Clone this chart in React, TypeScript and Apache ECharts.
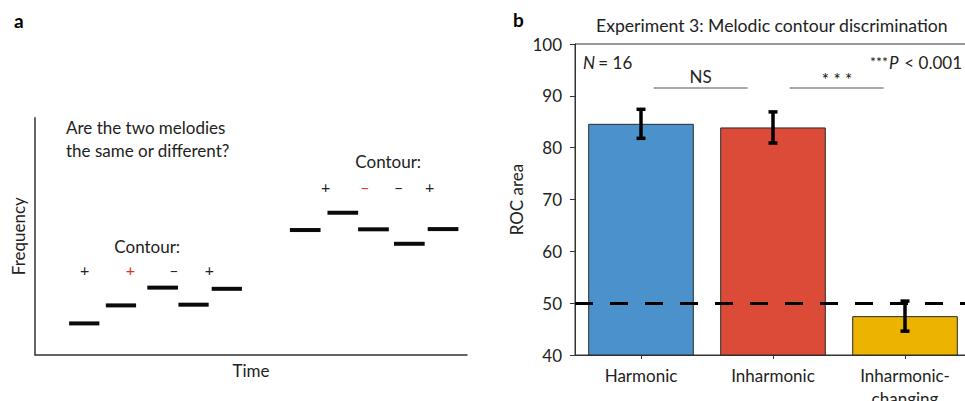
import React, { useEffect, useRef } from "react";
import * as echarts from "echarts";

// Panel b: ROC area per condition
const categories = ["Harmonic", "Inharmonic", "Inharmonic-\nchanging"];
const rocMeans = [84.6, 83.9, 47.5];
const rocErrors = [2.8, 3.0, 2.9];
const barColors = ["#4b92cc", "#dc4a38", "#ecb300"];
const chanceLevel = 50;
const rocMin = 40;
const rocMax = 100;
const rocStep = 10;

// Panel a: two example melodies as [start, end, pitch] in schematic units
const melodyFirst = [
  [7.9, 14.9, 13.2],
  [16.4, 23.4, 20.8],
  [26.0, 33.1, 28.3],
  [33.2, 40.2, 21.1],
  [40.9, 47.9, 27.8],
];
const melodySecond = [
  [59.0, 66.1, 52.6],
  [67.7, 74.8, 59.9],
  [74.8, 81.9, 52.9],
  [83.1, 90.2, 46.8],
  [90.9, 98.0, 53.0],
];
const contourFirst = ["+", "+", "–", "+"];
const contourSecond = ["+", "–", "–", "+"];
const changedStepFirst = 1;
const changedStepSecond = 1;

const FONT = "Lato, 'Open Sans', sans-serif";
const INK = "#222";
const RED = "#e8302a";

export default function App() {
  const ref = useRef<HTMLDivElement>(null);

  useEffect(() => {
    if (!ref.current) return;
    const chart = echarts.init(ref.current, undefined, { renderer: "svg" });

    const notes = [...melodyFirst, ...melodySecond];

    const txt = (
      text: string,
      x: number,
      y: number,
      size: number,
      align = "left",
      extra: any = {}
    ) => ({
      type: "text",
      x,
      y,
      silent: true,
      style: {
        text,
        fontSize: size,
        fontFamily: FONT,
        fill: INK,
        align,
        verticalAlign: "middle",
        ...extra,
      },
    });

    const signX1 = [84.7, 130.3, 174, 209.3];
    const signX2 = [325.7, 365, 398.7, 429.7];

    const graphic: any[] = [
      txt("a", 14, 20, 19, "left", { fontWeight: "bold", fill: "#000" }),
      txt("b", 513, 19, 19, "left", { fontWeight: "bold", fill: "#000" }),
      txt("Experiment 3: Melodic contour discrimination", 596, 25, 17.6, "left"),
      txt("Are the two melodies\nthe same or different?", 66, 138.5, 17, "left", {
        lineHeight: 23,
      }),
      txt("Contour:", 114.3, 246.7, 17),
      txt("Contour:", 355.3, 161.7, 17),
      ...contourFirst.map((s, i) =>
        txt(s, signX1[i], 269.3, 16, "center", {
          fill: i === changedStepFirst ? RED : INK,
        })
      ),
      ...contourSecond.map((s, i) =>
        txt(s, signX2[i], 186.7, 16, "center", {
          fill: i === changedStepSecond ? RED : INK,
        })
      ),
      // significance brackets
      {
        type: "line",
        silent: true,
        shape: { x1: 653.7, y1: 88, x2: 747.7, y2: 88 },
        style: { stroke: "#555", lineWidth: 1.2 },
      },
      {
        type: "line",
        silent: true,
        shape: { x1: 789.7, y1: 88, x2: 883.7, y2: 88 },
        style: { stroke: "#555", lineWidth: 1.2 },
      },
      txt("NS", 700.7, 76, 17, "center"),
      txt("* * *", 837, 79, 17, "center", { fill: "#111" }),
      txt("N", 583, 62.7, 17, "left", { fontStyle: "italic" }),
      txt(" = 16", 594, 62.7, 17),
      txt("***", 870, 61, 14),
      txt("P", 889, 62.7, 17, "left", { fontStyle: "italic" }),
      txt(" < 0.001", 900, 62.7, 17),
    ];

    const option: any = {
      animation: false,
      backgroundColor: "#fff",
      textStyle: { fontFamily: FONT },
      graphic,
      grid: [
        {
          left: 35,
          top: 117.7,
          width: 432,
          height: 237,
          outerBoundsMode: "none",
        },
        {
          left: 575,
          top: 44,
          width: 396,
          height: 311,
          show: true,
          borderColor: "#333",
          borderWidth: 1,
          backgroundColor: "transparent",
          outerBoundsMode: "none",
        },
      ],
      xAxis: [
        {
          gridIndex: 0,
          type: "value",
          min: 0,
          max: 100,
          axisLine: { show: true, onZero: false, lineStyle: { color: "#333", width: 1.5 } },
          axisTick: { show: false },
          axisLabel: { show: false },
          splitLine: { show: false },
          name: "Time",
          nameLocation: "middle",
          nameGap: 7,
          nameTextStyle: { fontSize: 17, color: INK, fontFamily: FONT },
        },
        {
          gridIndex: 1,
          type: "category",
          data: categories,
          axisLine: { show: true, lineStyle: { color: "#333", width: 1 } },
          axisTick: { show: true, alignWithLabel: true, length: 4, lineStyle: { color: "#333" } },
          axisLabel: {
            fontSize: 17,
            color: INK,
            fontFamily: FONT,
            margin: 9,
            lineHeight: 23,
          },
        },
      ],
      yAxis: [
        {
          gridIndex: 0,
          type: "value",
          min: 0,
          max: 100,
          axisLine: { show: true, onZero: false, lineStyle: { color: "#333", width: 1.5 } },
          axisTick: { show: false },
          axisLabel: { show: false },
          splitLine: { show: false },
          name: "Frequency",
          nameLocation: "middle",
          nameGap: 8,
          nameTextStyle: { fontSize: 17, color: INK, fontFamily: FONT },
        },
        {
          gridIndex: 1,
          type: "value",
          min: rocMin,
          max: rocMax,
          interval: rocStep,
          axisLine: { show: true, lineStyle: { color: "#333", width: 1 } },
          axisTick: { show: true, length: 5, lineStyle: { color: "#333" } },
          axisLabel: { fontSize: 17, color: INK, fontFamily: FONT, margin: 13 },
          splitLine: { show: false },
          name: "ROC area",
          nameLocation: "middle",
          nameGap: 50,
          nameTextStyle: { fontSize: 17, color: INK, fontFamily: FONT },
        },
      ],
      series: [
        {
          type: "custom",
          xAxisIndex: 0,
          yAxisIndex: 0,
          data: notes,
          silent: true,
          renderItem: (_p: any, api: any) => {
            const a = api.coord([api.value(0), api.value(2)]);
            const b = api.coord([api.value(1), api.value(2)]);
            return {
              type: "rect",
              shape: { x: a[0], y: a[1] - 2, width: b[0] - a[0], height: 4 },
              style: { fill: "#0a0a0a" },
            };
          },
        },
        {
          type: "bar",
          xAxisIndex: 1,
          yAxisIndex: 1,
          barWidth: "80%",
          silent: true,
          data: rocMeans.map((v, i) => ({
            value: v,
            itemStyle: { color: barColors[i], borderColor: "#2a2a2a", borderWidth: 1 },
          })),
          markLine: {
            silent: true,
            symbol: "none",
            label: { show: false },
            lineStyle: { color: "#000", width: 3, type: [18, 17] },
            data: [{ yAxis: chanceLevel }],
          },
        },
        {
          type: "custom",
          xAxisIndex: 1,
          yAxisIndex: 1,
          silent: true,
          z: 5,
          data: rocMeans.map((v, i) => [i, v - rocErrors[i], v + rocErrors[i]]),
          renderItem: (_p: any, api: any) => {
            const lo = api.coord([api.value(0), api.value(1)]);
            const hi = api.coord([api.value(0), api.value(2)]);
            const w = 4.5;
            const st = { stroke: "#000", lineWidth: 3.5 };
            return {
              type: "group",
              children: [
                { type: "line", shape: { x1: lo[0], y1: lo[1], x2: hi[0], y2: hi[1] }, style: st },
                { type: "line", shape: { x1: lo[0] - w, y1: lo[1], x2: lo[0] + w, y2: lo[1] }, style: st },
                { type: "line", shape: { x1: hi[0] - w, y1: hi[1], x2: hi[0] + w, y2: hi[1] }, style: st },
              ],
            };
          },
        },
      ],
    };

    chart.setOption(option);
    return () => chart.dispose();
  }, []);

  return (
    <div
      ref={ref}
      style={{ position: "fixed", left: 0, top: 0, width: 965, height: 401, background: "#fff" }}
    />
  );
}
